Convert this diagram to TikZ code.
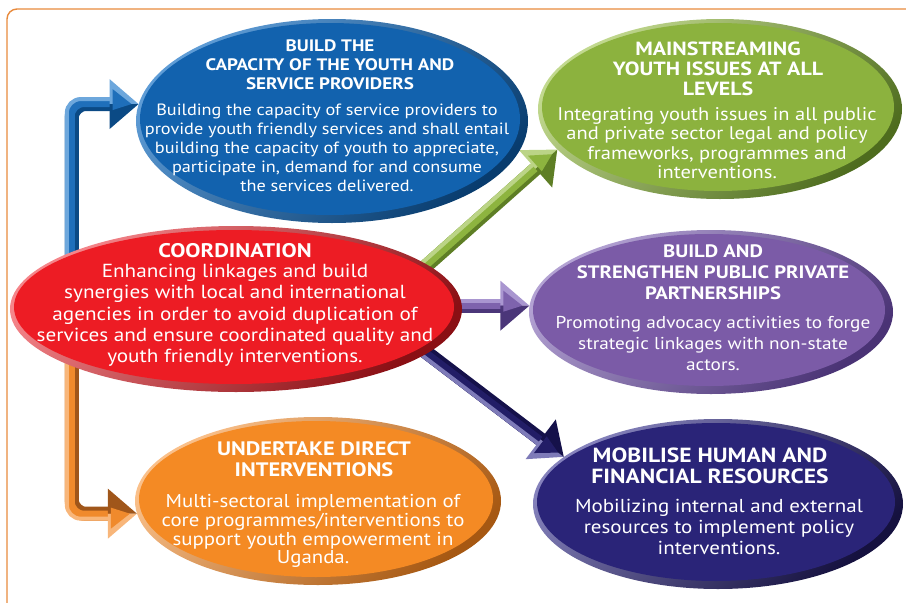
\documentclass[tikz,border=0pt]{standalone}
\usepackage{fontspec}
\setmainfont{PT Sans}[FakeStretch=1.12]
\newfontfamily\headfont{PT Sans}[FakeStretch=1.15]
\usetikzlibrary{shapes.geometric,decorations.markings,calc}
\pgfdeclarelayer{bg}
\pgfsetlayers{bg,main}

% ellipse colours
\definecolor{bluL}{HTML}{5E9CD6}\definecolor{bluM}{HTML}{1262AE}\definecolor{bluD}{HTML}{083C6E}
\definecolor{grnL}{HTML}{C2D98F}\definecolor{grnM}{HTML}{8CB23E}\definecolor{grnD}{HTML}{4E6C1E}
\definecolor{redL}{HTML}{F5858A}\definecolor{redM}{HTML}{ED1C24}\definecolor{redD}{HTML}{8A0F14}
\definecolor{purL}{HTML}{B3A2D3}\definecolor{purM}{HTML}{7B5BA7}\definecolor{purD}{HTML}{4A3375}
\definecolor{orgL}{HTML}{FAC08A}\definecolor{orgM}{HTML}{F48A24}\definecolor{orgD}{HTML}{A65812}
\definecolor{navL}{HTML}{8582BC}\definecolor{navM}{HTML}{2A2478}\definecolor{navD}{HTML}{15113F}
% arrow colours
\definecolor{abL}{HTML}{6DA7DC}\definecolor{abM}{HTML}{1F6FBA}\definecolor{abD}{HTML}{0B4A85}
\definecolor{aoL}{HTML}{F8B67A}\definecolor{aoM}{HTML}{F08A2C}\definecolor{aoD}{HTML}{A0561A}
\definecolor{agL}{HTML}{BBD486}\definecolor{agM}{HTML}{8DB43F}\definecolor{agD}{HTML}{5E7E25}
\definecolor{apL}{HTML}{A996D0}\definecolor{apM}{HTML}{7E63AD}\definecolor{apD}{HTML}{4B3679}
\definecolor{anL}{HTML}{7E7BB8}\definecolor{anM}{HTML}{221D66}\definecolor{anD}{HTML}{15114A}
\definecolor{frame}{HTML}{E88A3C}

\tikzset{
  bubble/.style n args={3}{ellipse, inner sep=0pt,
    top color=#1, bottom color=#3, shading angle=45,
    path picture={\fill[#2] let \p1=(path picture bounding box.north east),
        \p2=(path picture bounding box.center) in
        ([shift={(-2,2)}]\p2) ellipse [x radius={\x1-\x2-6}, y radius={\y1-\y2-6}];}},
  head/.style 2 args={text=white, align=center, inner sep=0pt, font=\headfont\bfseries\fontsize{#1}{#2}\selectfont},
  body/.style 2 args={text=white, align=center, inner sep=0pt, font=\fontsize{#1}{#2}\selectfont},
  beamline/.style={line width=14pt, rounded corners=14pt, shorten >=18pt, shorten <=-20pt},
}

% three-tone arrow: #1 path, #2 dark, #3 main, #4 light, (#5,#6) normal toward light side, #7 side of light face
\newcommand\beamarrow[7]{%
  \draw[beamline, draw=#2] #1;
  \draw[beamline, draw=#3, line width=10pt, transform canvas={shift={({2*(#5)},{2*(#6)})}}] #1;
  \draw[beamline, draw=#4, line width=4pt, transform canvas={shift={({5*(#5)},{5*(#6)})}}] #1;
  \path[decorate, decoration={markings, mark=at position 1 with {
     \fill[#4] (0,0) -- (-29,{25*(#7)}) -- (-29,0) -- cycle;
     \fill[#2] (0,0) -- (-29,0) -- (-29,{-25*(#7)}) -- cycle;
     \fill[#3] (-7,0) -- (-26,{15*(#7)}) -- (-26,{-6*(#7)}) -- cycle;}}] #1;
}

\begin{document}
\begin{tikzpicture}[x=1pt,y=1pt]
\useasboundingbox (0,0) rectangle (906,-603);
\begin{scope}
\clip (0,0) rectangle (906,-603);
\draw[frame, line width=1.4pt, rounded corners=10pt] (7,-620) |- (930,-9);
\end{scope}

% ellipses
\node[bubble={bluL}{bluM}{bluD}, minimum width=392pt, minimum height=204pt] (blue) at (332,-121) {};
\node[bubble={grnL}{grnM}{grnD}, minimum width=364pt, minimum height=180pt] (green) at (720,-109) {};
\node[bubble={redL}{redM}{redD}, minimum width=452pt, minimum height=166pt] (red) at (236,-309) {};
\node[bubble={purL}{purM}{purD}, minimum width=364pt, minimum height=164pt] (purple) at (711,-312) {};
\node[bubble={orgL}{orgM}{orgD}, minimum width=366pt, minimum height=168pt] (orange) at (318,-501) {};
\node[bubble={navL}{navM}{navD}, minimum width=370pt, minimum height=170pt] (navy) at (718,-504) {};

% texts
\node[head={16.6}{19}] (bluehead) at (330,-65) {BUILD THE\\CAPACITY OF THE YOUTH AND\\SERVICE PROVIDERS};
\node[body={16.3}{19}] (bluebody) at (327,-148)
  {Building the capacity of service providers to\\provide youth friendly services and shall entail\\building the capacity of youth to appreciate,\\participate in, demand for and consume\\the services delivered.};

\node[head={19.1}{20}] (greenhead) at (718,-69) {MAINSTREAMING\\YOUTH ISSUES AT ALL\\LEVELS};
\node[body={18.3}{19.5}] (greenbody) at (717,-143)
  {Integrating youth issues in all public\\and private sector legal and policy\\frameworks, programmes and\\interventions.};

\node[head={19.7}{21}] (redhead) at (235,-251) {COORDINATION};
\node[body={18.9}{21.3}] (redbody) at (235,-315.5)
  {Enhancing linkages and build\\synergies with local and international\\agencies in order to avoid duplication of\\services and ensure coordinated quality and\\youth friendly interventions.};

\node[head={18}{21}] (purplehead) at (713,-272) {BUILD AND\\STRENGTHEN PUBLIC PRIVATE\\PARTNERSHIPS};
\node[body={17.2}{21}] (purplebody) at (713,-344)
  {Promoting advocacy activities to forge\\strategic linkages with non-state\\actors.};

\node[head={19.5}{21}] (orangehead) at (314,-459.5) {UNDERTAKE DIRECT\\INTERVENTIONS};
\node[body={18.6}{18.8}] (orangebody) at (313,-531)
  {Multi-sectoral implementation of\\core programmes/interventions to\\support youth empowerment in\\Uganda.};

\node[head={20.5}{21}] (navyhead) at (710,-465.5) {MOBILISE HUMAN AND\\FINANCIAL RESOURCES};
\node[body={18.75}{21}] (navybody) at (719,-527)
  {Mobilizing internal and external\\resources to implement policy\\interventions.};

% connectors behind the ellipses
\begin{pgfonlayer}{bg}
\beamarrow{([xshift=62pt]red.west) |- (blue.175)}{abD}{abM}{abL}{-1}{1}{1}
\beamarrow{([xshift=62pt]red.west) |- (orange.184)}{aoD}{aoM}{aoL}{-1}{-1}{-1}
\beamarrow{(red.13) -- (green.194)}{agD}{agM}{agL}{-0.663}{0.749}{1}
\beamarrow{(red.center |- purple.178) -- (purple.178)}{apD}{apM}{apL}{0}{1}{1}
\beamarrow{(red.-13) -- (navy.163)}{anD}{anM}{anL}{-0.604}{-0.797}{-1}
\end{pgfonlayer}
\end{tikzpicture}
\end{document}
